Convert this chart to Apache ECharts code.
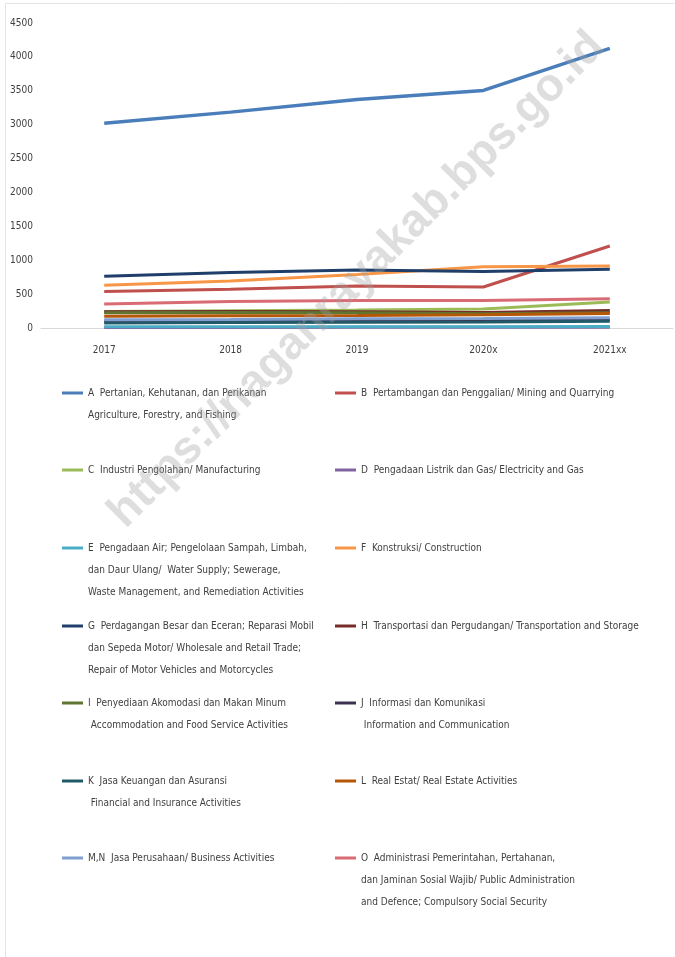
<!DOCTYPE html>
<html>
<head>
<meta charset="utf-8">
<script src="https://cdn.jsdelivr.net/npm/echarts@6/dist/echarts.min.js"></script>
<style>
  html, body { margin: 0; padding: 0; background: #fff; }
  #main { width: 675px; height: 957px; }
</style>
</head>
<body>
<div id="main"></div>
<script>
var chartDom = document.getElementById("main");
var myChart = echarts.init(chartDom);
var option;

const years = ["2017", "2018", "2019", "2020x", "2021xx"];
const yTicks = [0, 500, 1000, 1500, 2000, 2500, 3000, 3500, 4000, 4500];

const seriesNames = [
  "A  Pertanian, Kehutanan, dan Perikanan\nAgriculture, Forestry, and Fishing",
  "B  Pertambangan dan Penggalian/ Mining and Quarrying",
  "C  Industri Pengolahan/ Manufacturing",
  "D  Pengadaan Listrik dan Gas/ Electricity and Gas",
  "E  Pengadaan Air; Pengelolaan Sampah, Limbah,\ndan Daur Ulang/  Water Supply; Sewerage,\nWaste Management, and Remediation Activities",
  "F  Konstruksi/ Construction",
  "G  Perdagangan Besar dan Eceran; Reparasi Mobil\ndan Sepeda Motor/ Wholesale and Retail Trade;\nRepair of Motor Vehicles and Motorcycles",
  "H  Transportasi dan Pergudangan/ Transportation and Storage",
  "I  Penyediaan Akomodasi dan Makan Minum\n Accommodation and Food Service Activities",
  "J  Informasi dan Komunikasi\n Information and Communication",
  "K  Jasa Keuangan dan Asuransi\n Financial and Insurance Activities",
  "L  Real Estat/ Real Estate Activities",
  "M,N  Jasa Perusahaan/ Business Activities",
  "O  Administrasi Pemerintahan, Pertahanan,\ndan Jaminan Sosial Wajib/ Public Administration\nand Defence; Compulsory Social Security"
];

const valA = [3020, 3185, 3370, 3505, 4125];
const valB = [540, 570, 620, 605, 1210];
const valC = [245, 255, 265, 280, 385];
const valD = [8, 9, 10, 10, 11];
const valE = [18, 19, 20, 20, 22];
const valF = [630, 695, 790, 905, 915];
const valG = [765, 820, 855, 835, 865];
const valH = [240, 245, 240, 230, 260];
const valI = [225, 230, 225, 210, 225];
const valJ = [100, 105, 110, 115, 125];
const valK = [75, 80, 85, 90, 100];
const valL = [175, 180, 185, 195, 215];
const valMN = [120, 125, 135, 140, 150];
const valO = [355, 390, 405, 405, 430];

const allValues = [valA, valB, valC, valD, valE, valF, valG, valH, valI, valJ, valK, valL, valMN, valO];

const colors = [
  "#4a7ebb", "#c0504d", "#9bbb59", "#8064a2", "#4bacc6", "#f79646", "#1f3f6a",
  "#772c2a", "#5f7530", "#3f3151", "#215968", "#b65708", "#7f9fd0", "#d96b74"
];

const fontNarrow = "'DejaVu Sans Condensed', 'Liberation Sans Narrow', 'Open Sans', sans-serif";
const lh = 22;
// first-line centre of each legend row, two columns
const rowY = [393, 470, 548, 626, 703, 781, 858];
const colX = [62, 335];

var series = [];
var legends = [];
for (var i = 0; i < seriesNames.length; i++) {
  (function (i) {
    var n = seriesNames[i].split("\n").length;
    series.push({
      name: seriesNames[i],
      type: "line",
      data: allValues[i],
      symbol: "none",
      lineStyle: { width: i === 0 ? 3.5 : 3, color: colors[i] },
      itemStyle: { color: colors[i] }
    });
    legends.push({
      data: [seriesNames[i]],
      left: colX[i % 2],
      top: rowY[Math.floor(i / 2)] - (n - 1) * lh - lh / 2,
      padding: 0,
      icon: "rect",
      itemWidth: 21,
      itemHeight: 3,
      itemGap: 0,
      selectedMode: false,
      // blank lines above keep the icon level with the first text line
      formatter: function (name) {
        return "\n".repeat(n - 1) + name;
      },
      textStyle: {
        fontFamily: fontNarrow,
        fontSize: 10,
        color: "#404040",
        lineHeight: lh
      }
    });
  })(i);
}

option = {
  backgroundColor: "#ffffff",
  animation: false,
  color: colors,
  grid: { left: 41, right: 2, top: 23, bottom: 629, containLabel: false },
  xAxis: {
    type: "category",
    data: years,
    boundaryGap: true,
    axisLine: { lineStyle: { color: "#d9d9d9", width: 1 } },
    axisTick: { show: false },
    axisLabel: { margin: 17, fontFamily: fontNarrow, fontSize: 10, color: "#404040" }
  },
  yAxis: {
    type: "value",
    min: yTicks[0],
    max: yTicks[yTicks.length - 1],
    interval: 500,
    axisLine: { show: false },
    axisTick: { show: false },
    splitLine: { show: false },
    axisLabel: {
      margin: 8,
      fontFamily: fontNarrow,
      fontSize: 10,
      color: "#404040",
      formatter: function (v) { return String(v); }
    }
  },
  legend: legends,
  series: series,
  graphic: [
    {
      type: "rect",
      silent: true,
      shape: { x: 5.5, y: 3.5, width: 800, height: 1000 },
      style: { fill: "none", stroke: "#e4e4e4", lineWidth: 1 }
    },
    {
      type: "text",
      silent: true,
      z: 100,
      x: 357,
      y: 280,
      rotation: Math.PI / 4,
      style: {
        text: "https://naganrayakab.bps.go.id",
        font: "bold 46px 'Liberation Sans', Arial, sans-serif",
        fill: "rgba(160,160,160,0.35)",
        align: "center",
        verticalAlign: "middle"
      }
    }
  ]
};

option && myChart.setOption(option);
</script>
</body>
</html>
